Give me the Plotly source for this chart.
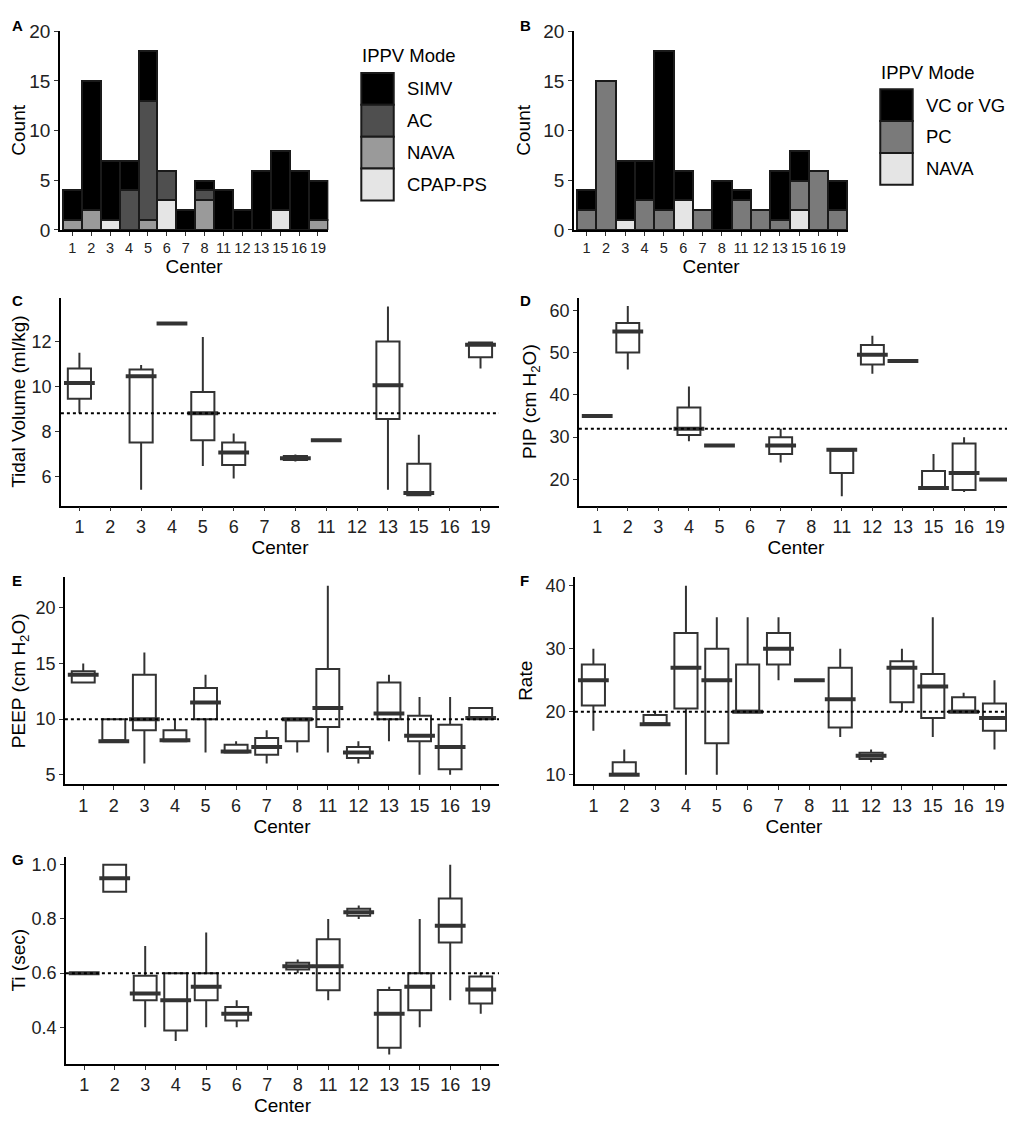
import plotly.graph_objects as go

# the page body adds an 8px margin, so the figure is drawn 8px smaller and all
# reference pixel positions below are shifted by OFF
OFF = 8
W, H = 1015 - OFF, 1123 - OFF

centers = ["1", "2", "3", "4", "5", "6", "7", "8", "11", "12", "13", "15", "16", "19"]

# panel A - IPPV mode counts (stacked bottom to top: CPAP-PS, NAVA, AC, SIMV)
a_modes = ["SIMV", "AC", "NAVA", "CPAP-PS"]
a_simv = [3, 13, 6, 3, 5, 0, 2, 1, 4, 2, 6, 6, 6, 4]
a_ac = [0, 0, 0, 4, 12, 3, 0, 1, 0, 0, 0, 0, 0, 0]
a_nava = [1, 2, 0, 0, 1, 0, 0, 3, 0, 0, 0, 0, 0, 1]
a_cpap = [0, 0, 1, 0, 0, 3, 0, 0, 0, 0, 0, 2, 0, 0]
a_colors = ["#000000", "#4f4f4f", "#9a9a9a", "#e5e5e5"]

# panel B - IPPV mode counts (bottom to top: NAVA, PC, VC or VG)
b_modes = ["VC or VG", "PC", "NAVA"]
b_vc = [2, 0, 6, 4, 16, 3, 0, 5, 1, 0, 5, 3, 0, 3]
b_pc = [2, 15, 0, 3, 2, 0, 2, 0, 3, 2, 1, 3, 6, 2]
b_nava = [0, 0, 1, 0, 0, 3, 0, 0, 0, 0, 0, 2, 0, 0]
b_colors = ["#000000", "#7a7a7a", "#e5e5e5"]

# panel C - tidal volume
tv_centers = ["1", "3", "4", "5", "6", "8", "11", "13", "15", "19"]
tv_low = [8.8, 5.4, 12.75, 6.45, 5.9, 6.65, 7.6, 5.4, 5.15, 10.8]
tv_q1 = [9.45, 7.5, 12.78, 7.6, 6.5, 6.72, 7.6, 8.55, 5.15, 11.3]
tv_med = [10.15, 10.45, 12.8, 8.8, 7.05, 6.8, 7.6, 10.05, 5.25, 11.85]
tv_q3 = [10.8, 10.75, 12.8, 9.75, 7.5, 6.9, 7.6, 12.0, 6.55, 11.95]
tv_high = [11.5, 10.95, 12.82, 12.2, 7.9, 6.97, 7.6, 13.55, 7.85, 12.0]
tv_mean = 8.8

# panel D - PIP
pip_centers = ["1", "2", "4", "5", "7", "11", "12", "13", "15", "16", "19"]
pip_low = [35, 46, 29, 28, 24, 16, 45, 48, 18, 17, 20]
pip_q1 = [35, 50, 30.5, 28, 26, 21.5, 47.2, 48, 18, 17.5, 20]
pip_med = [35, 55, 32, 28, 28, 27, 49.5, 48, 18, 21.5, 20]
pip_q3 = [35, 57, 37, 28, 30, 27, 51.8, 48, 22, 28.5, 20]
pip_high = [35, 61, 42, 28, 32, 27, 54, 48, 26, 30, 20]
pip_mean = 32

# panel E - PEEP
peep_centers = centers
peep_low = [13.3, 8, 6, 8, 7, 7, 6, 7, 7, 6, 8, 5, 5, 10]
peep_q1 = [13.3, 8, 9, 8, 10, 7, 6.8, 8, 9.3, 6.5, 10, 8, 5.5, 10]
peep_med = [14, 8, 10, 8.1, 11.5, 7.1, 7.5, 10, 11, 7, 10.5, 8.5, 7.5, 10.1]
peep_q3 = [14.3, 10, 14, 9, 12.8, 7.7, 8.3, 10, 14.5, 7.5, 13.3, 10.3, 9.5, 11]
peep_high = [15, 10, 16, 10, 14, 8, 9, 10, 22, 8, 14, 12, 12, 11]
peep_mean = 10

# panel F - rate
rate_centers = centers
rate_low = [17, 10, 18, 10, 10, 20, 25, 25, 16, 12, 20, 16, 20, 14]
rate_q1 = [21, 10, 18, 20.5, 15, 20, 27.5, 25, 17.5, 12.5, 21.5, 19, 20, 17]
rate_med = [25, 10, 18, 27, 25, 20, 30, 25, 22, 13, 27, 24, 20, 19]
rate_q3 = [27.5, 12, 19.5, 32.5, 30, 27.5, 32.5, 25, 27, 13.5, 28, 26, 22.3, 21.3]
rate_high = [30, 14, 20, 40, 35, 35, 35, 25, 30, 14, 30, 35, 23, 25]
rate_mean = 20

# panel G - Ti
ti_centers = ["1", "2", "3", "4", "5", "6", "8", "11", "12", "13", "15", "16", "19"]
ti_low = [0.6, 0.9, 0.4, 0.35, 0.4, 0.4, 0.6, 0.5, 0.8, 0.3, 0.4, 0.5, 0.45]
ti_q1 = [0.6, 0.9, 0.5, 0.388, 0.5, 0.425, 0.613, 0.537, 0.812, 0.325, 0.463, 0.713, 0.488]
ti_med = [0.6, 0.95, 0.525, 0.5, 0.55, 0.45, 0.625, 0.625, 0.825, 0.45, 0.55, 0.775, 0.54]
ti_q3 = [0.6, 1.0, 0.59, 0.6, 0.6, 0.475, 0.638, 0.725, 0.838, 0.538, 0.6, 0.875, 0.588]
ti_high = [0.6, 1.0, 0.7, 0.6, 0.75, 0.5, 0.65, 0.8, 0.85, 0.55, 0.8, 1.0, 0.6]
ti_mean = 0.6

FONT = "Liberation Sans, Arial, sans-serif"
INK = "#333333"


def px_x(p):
    return max(p - OFF, 0) / W


def px_y(p):
    return 1 - max(p - OFF, 0) / H


fig = go.Figure()


def nz(vals):
    return [v if v else None for v in vals]


# stacked bars, A
for name, vals, col in [("CPAP-PS", a_cpap, a_colors[3]), ("NAVA", a_nava, a_colors[2]),
                        ("AC", a_ac, a_colors[1]), ("SIMV", a_simv, a_colors[0])]:
    fig.add_trace(go.Bar(x=centers, y=nz(vals), name=name, marker_color=col,
                         marker_line=dict(color="#1a1a1a", width=2),
                         xaxis="x", yaxis="y", showlegend=False))

# stacked bars, B
for name, vals, col in [("NAVA", b_nava, b_colors[2]), ("PC", b_pc, b_colors[1]),
                        ("VC or VG", b_vc, b_colors[0])]:
    fig.add_trace(go.Bar(x=centers, y=nz(vals), name=name, marker_color=col,
                         marker_line=dict(color="#1a1a1a", width=2),
                         xaxis="x2", yaxis="y2", showlegend=False))

box_panels = [
    ("3", tv_centers, tv_low, tv_q1, tv_med, tv_q3, tv_high, tv_mean),
    ("4", pip_centers, pip_low, pip_q1, pip_med, pip_q3, pip_high, pip_mean),
    ("5", peep_centers, peep_low, peep_q1, peep_med, peep_q3, peep_high, peep_mean),
    ("6", rate_centers, rate_low, rate_q1, rate_med, rate_q3, rate_high, rate_mean),
    ("7", ti_centers, ti_low, ti_q1, ti_med, ti_q3, ti_high, ti_mean),
]

for ax, cx, lo, q1, md, q3, hi, mean in box_panels:
    fig.add_trace(go.Box(x=cx, q1=q1, median=md, q3=q3, lowerfence=lo, upperfence=hi,
                         width=0.75, fillcolor="white", line=dict(color=INK, width=2),
                         whiskerwidth=0, boxpoints=False, showlegend=False,
                         xaxis="x" + ax, yaxis="y" + ax))
    # thicker median bar, like ggplot
    fig.add_trace(go.Scatter(x=cx, y=md, mode="markers", showlegend=False,
                             marker=dict(symbol="line-ew", size=22,
                                         line=dict(color=INK, width=4)),
                             xaxis="x" + ax, yaxis="y" + ax))
    fig.add_shape(type="line", xref="x" + ax + " domain", yref="y" + ax,
                  x0=0, x1=1, y0=mean, y1=mean, layer="above",
                  line=dict(color="black", width=2, dash="dot"))

# axis domains in reference pixels: (left, right, top, bottom)
# (A/B top pulled down a little so the "20" label is not cut by the page margin)
panels = {
    "": (58, 327, 21, 224),
    "2": (573, 848, 21, 224),
    "3": (59, 498, 293, 505),
    "4": (578, 1013, 293, 505),
    "5": (63, 498, 578, 789),
    "6": (574, 1013, 578, 789),
    "7": (64, 498, 862.7, 1074),
}
yinfo = {
    "": ("Count", [0, 20.05], [0, 5, 10, 15, 20], None),
    "2": ("Count", [0, 20.05], [0, 5, 10, 15, 20], None),
    "3": ("Tidal Volume (ml/kg)", [4.69, 13.95], [6, 8, 10, 12], None),
    "4": ("PIP (cm H<sub>2</sub>O)", [13.8, 63], [20, 30, 40, 50, 60], None),
    "5": ("PEEP (cm H<sub>2</sub>O)", [4.14, 22.76], [5, 10, 15, 20], None),
    "6": ("Rate", [8.49, 41.35], [10, 20, 30, 40], None),
    "7": ("Ti (sec)", [0.265, 1.03], [0.4, 0.6, 0.8, 1.0], ".1f"),
}

layout = dict(
    width=W, height=H, margin=dict(l=0, r=0, t=0, b=0),
    paper_bgcolor="white", plot_bgcolor="white",
    barmode="stack", bargap=0,
    font=dict(family=FONT, size=18, color="black"),
)

for k, (l, r, t, b) in panels.items():
    hist = k in ("", "2")
    title, yr, tv, fmt = yinfo[k]
    common = dict(showline=True, linecolor="black", linewidth=1.5, ticks="outside",
                  ticklen=4, tickcolor=INK, showgrid=False, zeroline=False)
    layout["xaxis" + k] = dict(
        common, domain=[px_x(l), px_x(r)], anchor="y" + k,
        type="category", categoryorder="array", categoryarray=centers,
        range=[-0.66, 13.55] if hist else [-0.6, 13.6],
        tickfont=dict(size=14.5 if hist else 18, color="#222"),
        title=dict(text="Center", font=dict(size=19), standoff=4),
    )
    layout["yaxis" + k] = dict(
        common, domain=[px_y(b), px_y(t)], anchor="x" + k,
        range=yr, tickvals=tv, tickformat=fmt,
        tickfont=dict(size=19 if hist else 18, color="#222"),
        title=dict(text=title, font=dict(size=19), standoff=8),
    )

fig.update_layout(**layout)

# panel letters
for letter, x, y in [("A", 3, 16), ("B", 517, 16), ("C", 3, 296), ("D", 517, 296),
                     ("E", 3, 581), ("F", 517, 581), ("G", 3, 866)]:
    fig.add_annotation(text="<b>%s</b>" % letter, x=px_x(x), y=px_y(y), xref="paper",
                       yref="paper", xanchor="left", yanchor="middle", showarrow=False,
                       font=dict(size=15, color="black"))


# hand-drawn legends, ggplot style
def draw_legend(title, labels, colors, x0, ytitle, ykey0, key=32.5, tx=11):
    fig.add_annotation(text=title, x=px_x(x0 - 1), y=px_y(ytitle), xref="paper",
                       yref="paper", xanchor="left", yanchor="middle", showarrow=False,
                       font=dict(size=18.5, color="black"))
    for i, (lab, col) in enumerate(zip(labels, colors)):
        top = ykey0 + i * key
        fig.add_shape(type="rect", xref="paper", yref="paper",
                      x0=px_x(x0), x1=px_x(x0 + key), y0=px_y(top + key), y1=px_y(top),
                      fillcolor=col, line=dict(color="#1a1a1a", width=2))
        fig.add_annotation(text=lab, x=px_x(x0 + key + tx), y=px_y(top + key / 2),
                           xref="paper", yref="paper", xanchor="left", yanchor="middle",
                           showarrow=False, font=dict(size=18.5, color="black"))


draw_legend("IPPV Mode", a_modes, a_colors, 360, 46, 64)
draw_legend("IPPV Mode", b_modes, b_colors, 880, 63.5, 80.5)

fig.write_html("out.html")
